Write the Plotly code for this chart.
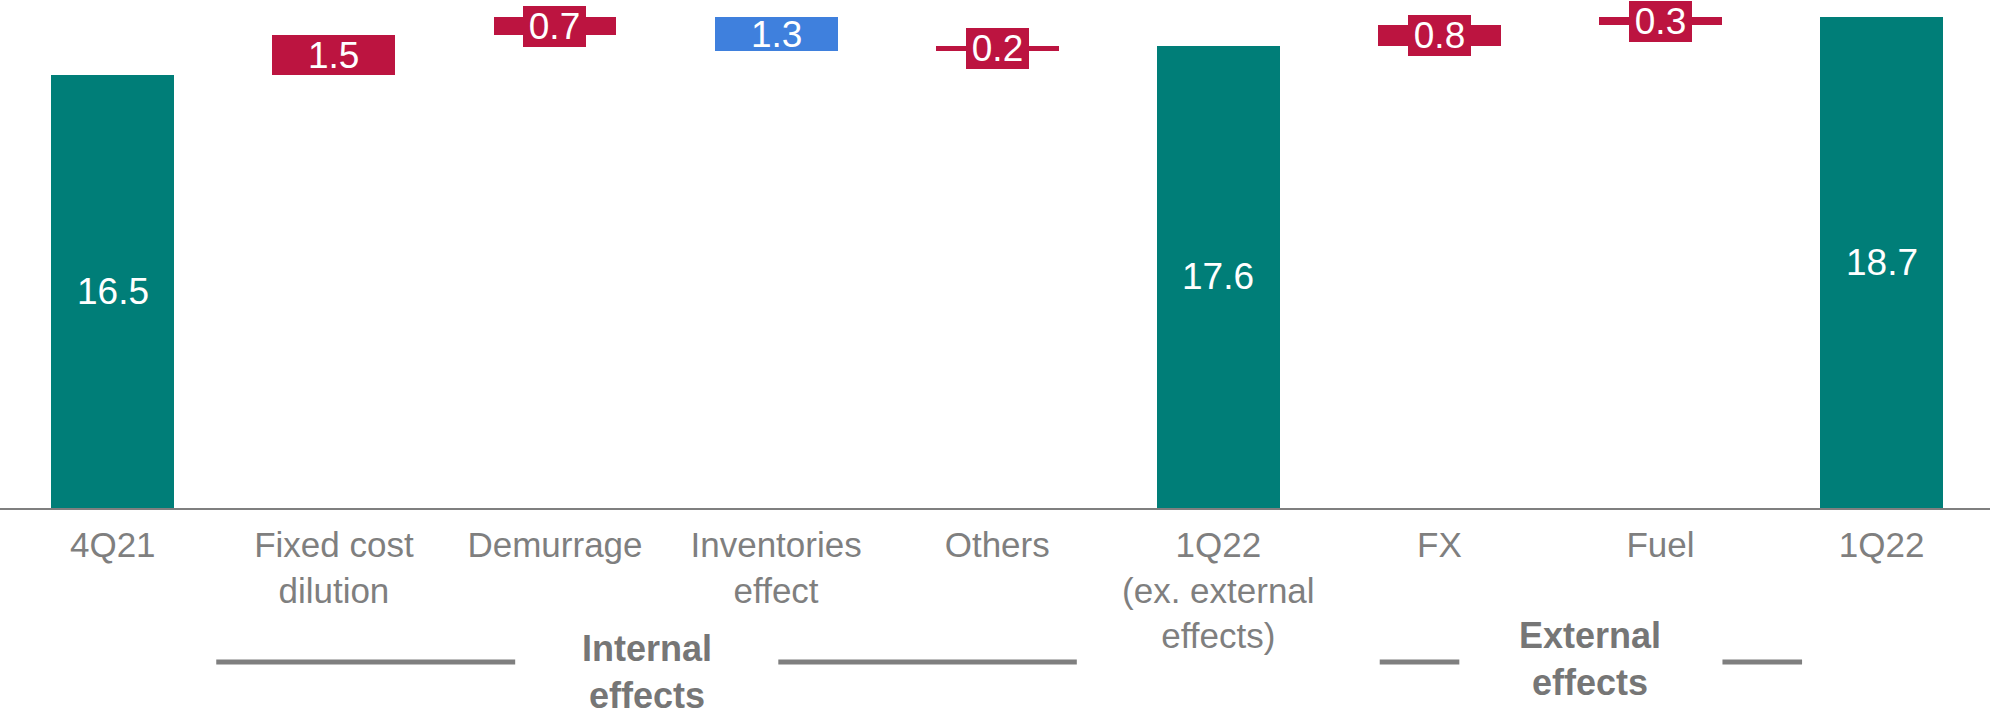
import plotly.graph_objects as go

# Bridge data
categories = ["4Q21", "Fixed cost<br>dilution", "Demurrage", "Inventories<br>effect",
              "Others", "1Q22<br>(ex. external<br>effects)", "FX", "Fuel", "1Q22"]
values = [16.5, 1.5, 0.7, -1.3, 0.2, 17.6, 0.8, 0.3, 18.7]
measures = ["total", "relative", "relative", "relative", "relative",
            "total", "relative", "relative", "total"]
value_labels = ["16.5", "1.5", "0.7", "1.3", "0.2", "17.6", "0.8", "0.3", "18.7"]

# Group brackets under the category axis (positions in category units)
group_names = ["Internal<br>effects", "External<br>effects"]
group_centers = [2.415, 6.68]
group_text_y = [-0.322, -0.297]
group_left_segments = [(0.468, 1.82), (5.73, 6.09)]
group_right_segments = [(3.01, 4.36), (7.28, 7.64)]

TEAL = "#007E78"
RED = "#BC1440"
BLUE = "#3F80DD"
GREY = "#7F7F7F"
FONT = "Arial, Liberation Sans, sans-serif"

# running bases for the floating bars
bases, colors = [], []
running = 0.0
for v, m in zip(values, measures):
    if m == "total":
        bases.append(0.0)
        running = v
        colors.append(TEAL)
    else:
        bases.append(running)
        running = round(running + v, 6)
        colors.append(RED if v > 0 else BLUE)

x_idx = list(range(len(categories)))

fig = go.Figure()
fig.add_trace(go.Bar(
    x=x_idx, y=values, base=bases, width=0.556,
    marker=dict(color=colors, line=dict(width=0)),
    hoverinfo="skip", showlegend=False,
))

annotations = []
for i, (v, b, m, lab, c) in enumerate(zip(values, bases, measures, value_labels, colors)):
    mid = b + v / 2
    ann = dict(x=i, y=mid, xref="x", yref="y", text=lab, showarrow=False,
               font=dict(family=FONT, size=37, color="white"),
               xanchor="center", yanchor="middle")
    if m == "relative" and abs(v) < 1.0:
        ann.update(bgcolor=c, width=63, height=41, borderpad=0, borderwidth=0)
    annotations.append(ann)

for name, cx, ty in zip(group_names, group_centers, group_text_y):
    annotations.append(dict(x=cx, y=ty, xref="x", yref="paper", text=f"<b>{name}</b>",
                            showarrow=False, xanchor="center", yanchor="middle",
                            font=dict(family=FONT, size=36, color="#767676")))

shapes = []
line_y = -0.303
for segs in (group_left_segments, group_right_segments):
    for x0, x1 in segs:
        shapes.append(dict(type="line", xref="x", yref="paper", x0=x0, x1=x1,
                           y0=line_y, y1=line_y, line=dict(color=GREY, width=5)))

fig.update_layout(
    width=1990, height=714,
    margin=dict(l=0, r=0, t=0, b=206),
    plot_bgcolor="white", paper_bgcolor="white",
    bargap=0,
    annotations=annotations,
    shapes=shapes,
    xaxis=dict(
        range=[-0.51, 8.49],
        tickmode="array", tickvals=x_idx, ticktext=categories,
        tickfont=dict(family=FONT, size=35, color=GREY),
        ticklabelstandoff=5,
        showline=True, linecolor=GREY, linewidth=2,
        showgrid=False, zeroline=False, ticks="",
    ),
    yaxis=dict(range=[0, 19.35], visible=False, showgrid=False, zeroline=False),
)

fig.write_html("out.html")
